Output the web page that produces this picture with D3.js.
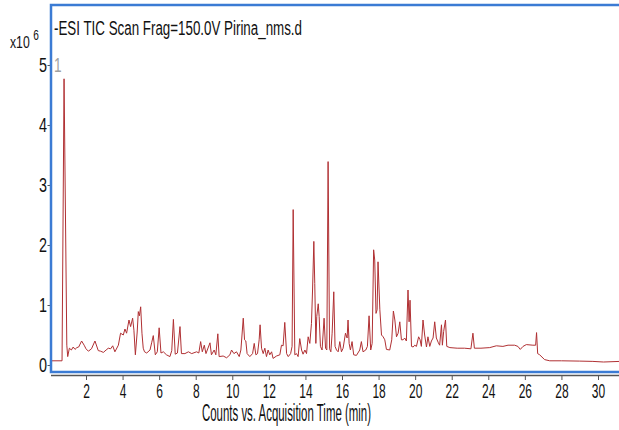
<!DOCTYPE html>
<html>
<head>
<meta charset="utf-8">
<script src="https://cdn.jsdelivr.net/npm/d3@7"></script>
<style>
  html, body { margin: 0; padding: 0; background: #fff; }
  svg { display: block; }
  text { font-family: "Liberation Sans", Arial, sans-serif; fill: #111; }
</style>
</head>
<body>
<svg id="chart" width="619" height="430"></svg>
<script>
// chromatogram: time (min) and counts (x10^6)
var times = [
  0.05, 0.69, 0.80, 0.95, 1.00, 1.09, 1.20, 1.30, 1.40, 1.50, 1.60, 1.76, 1.90, 2.00, 2.13, 2.30,
  2.49, 2.67, 2.80, 2.95, 3.10, 3.22, 3.35, 3.46, 3.58, 3.77, 3.89, 4.04, 4.13, 4.22, 4.35, 4.44,
  4.55, 4.62, 4.70, 4.80, 4.86, 4.92, 4.99, 5.06, 5.13, 5.20, 5.32, 5.50, 5.59, 5.68, 5.79, 5.90,
  6.00, 6.10, 6.23, 6.40, 6.59, 6.69, 6.78, 6.88, 7.00, 7.14, 7.22, 7.41, 7.60, 7.78, 8.05, 8.17,
  8.27, 8.36, 8.47, 8.56, 8.78, 8.86, 9.01, 9.10, 9.21, 9.28, 9.50, 9.69, 9.87, 9.96, 10.09, 10.23,
  10.38, 10.47, 10.60, 10.67, 10.74, 10.81, 10.96, 11.11, 11.20, 11.29, 11.38, 11.47, 11.52, 11.60, 11.69, 11.78,
  11.87, 11.96, 12.05, 12.15, 12.23, 12.42, 12.60, 12.69, 12.78, 12.87, 12.97, 13.06, 13.19, 13.27, 13.33, 13.42,
  13.51, 13.60, 13.69, 13.79, 13.87, 13.97, 14.06, 14.15, 14.24, 14.33, 14.39, 14.46, 14.51, 14.57, 14.62, 14.70,
  14.75, 14.82, 14.91, 15.02, 15.10, 15.17, 15.24, 15.32, 15.39, 15.46, 15.55, 15.62, 15.70, 15.79, 15.88, 15.97,
  16.06, 16.19, 16.28, 16.33, 16.39, 16.46, 16.55, 16.64, 16.79, 16.97, 17.06, 17.15, 17.30, 17.39, 17.48, 17.57,
  17.65, 17.73, 17.79, 17.86, 17.92, 17.97, 18.07, 18.16, 18.25, 18.34, 18.43, 18.61, 18.72, 18.81, 18.89, 18.98,
  19.07, 19.16, 19.25, 19.34, 19.43, 19.52, 19.61, 19.67, 19.72, 19.80, 19.89, 19.98, 20.07, 20.19, 20.27, 20.34,
  20.43, 20.52, 20.62, 20.70, 20.80, 20.89, 20.98, 21.07, 21.16, 21.27, 21.34, 21.44, 21.49, 21.56, 21.66, 21.73,
  21.90, 22.30, 22.70, 23.05, 23.16, 23.24, 23.60, 24.08, 24.44, 24.80, 25.08, 25.44, 25.62, 25.75, 25.90, 26.08,
  26.44, 26.59, 26.64, 26.70, 26.81, 27.08, 27.36, 28.00, 29.00, 29.72, 30.30, 31.20
];
var counts = [
  0.07, 0.07, 4.77, 0.33, 0.14, 0.28, 0.25, 0.30, 0.26, 0.29, 0.30, 0.40, 0.33, 0.27, 0.23, 0.27,
  0.40, 0.24, 0.23, 0.21, 0.25, 0.28, 0.27, 0.32, 0.22, 0.33, 0.53, 0.50, 0.60, 0.53, 0.75, 0.64,
  0.78, 0.58, 0.17, 0.55, 0.89, 0.82, 0.97, 0.53, 0.28, 0.22, 0.20, 0.25, 0.37, 0.49, 0.17, 0.22,
  0.62, 0.20, 0.22, 0.17, 0.14, 0.24, 0.76, 0.18, 0.20, 0.64, 0.19, 0.19, 0.22, 0.19, 0.22, 0.20,
  0.39, 0.22, 0.33, 0.19, 0.37, 0.17, 0.25, 0.17, 0.52, 0.14, 0.15, 0.12, 0.17, 0.25, 0.19, 0.22,
  0.14, 0.25, 0.78, 0.42, 0.40, 0.19, 0.14, 0.19, 0.36, 0.17, 0.19, 0.42, 0.67, 0.28, 0.19, 0.28,
  0.14, 0.25, 0.17, 0.22, 0.11, 0.15, 0.17, 0.33, 0.32, 0.71, 0.19, 0.14, 0.19, 0.31, 2.59, 0.17,
  0.19, 0.14, 0.44, 0.25, 0.18, 0.25, 0.19, 0.47, 0.36, 0.69, 1.25, 2.06, 1.36, 0.36, 0.81, 1.02,
  0.81, 0.31, 0.25, 0.78, 0.28, 0.25, 3.39, 0.27, 0.22, 0.53, 1.22, 0.31, 0.25, 0.22, 0.39, 0.22,
  0.28, 0.53, 0.45, 0.75, 0.36, 0.25, 0.39, 0.17, 0.16, 0.25, 0.39, 0.22, 0.25, 0.31, 0.82, 0.25,
  0.36, 1.92, 1.75, 0.86, 0.92, 1.72, 0.92, 0.50, 0.47, 0.42, 0.26, 0.25, 0.42, 0.90, 0.75, 0.47,
  0.53, 0.72, 0.42, 0.42, 0.45, 0.40, 1.25, 0.72, 1.08, 0.31, 0.30, 0.33, 0.31, 0.47, 0.42, 0.31,
  0.75, 0.50, 0.30, 0.47, 0.31, 0.40, 0.45, 0.72, 0.45, 0.37, 0.33, 0.67, 0.33, 0.56, 0.75, 0.31,
  0.29, 0.28, 0.28, 0.27, 0.53, 0.28, 0.28, 0.29, 0.32, 0.31, 0.33, 0.33, 0.31, 0.26, 0.31, 0.34,
  0.33, 0.33, 0.54, 0.19, 0.17, 0.09, 0.07, 0.07, 0.065, 0.06, 0.05, 0.06
];
var xTicks = [2, 4, 6, 8, 10, 12, 14, 16, 18, 20, 22, 24, 26, 28, 30];
var yTicks = [0, 1, 2, 3, 4, 5];
var titleText = "-ESI TIC Scan Frag=150.0V Pirina_nms.d";
var xTitle = "Counts vs. Acquisition Time (min)";
var peakLabel = "1";

(function () {
  var svg = d3.select("#chart");
  var pl = 51, pr = 619, pt = 5, pb = 373;

  var x = d3.scaleLinear().domain([2, 30]).range([86, 598]);
  var y = d3.scaleLinear().domain([0, 5]).range([365, 65]);

  var data = times.map(function (t, i) { return {t: t, v: counts[i]}; });

  svg.append("clipPath").attr("id", "plotclip")
    .append("rect").attr("x", pl).attr("y", pt).attr("width", pr - pl).attr("height", pb - pt);

  // trace
  svg.append("path")
    .datum(data)
    .attr("clip-path", "url(#plotclip)")
    .attr("fill", "none")
    .attr("stroke", "#b03033")
    .attr("stroke-width", 1)
    .attr("stroke-linejoin", "round")
    .attr("d", d3.line().x(function (d) { return x(d.t); }).y(function (d) { return y(d.v); }));

  // x axis, sits just under the frame
  var gx = svg.append("g").attr("transform", "translate(0,375)")
    .call(d3.axisBottom(x).tickValues(xTicks).tickSize(5).tickSizeOuter(0).tickPadding(4));
  gx.select(".domain").attr("d", "M" + pl + ",0.5H" + pr).attr("stroke", "#555").attr("stroke-width", 1.5);
  gx.selectAll(".tick line").attr("stroke", "#555");
  gx.selectAll(".tick text")
    .attr("font-size", 20).attr("font-family", null).attr("fill", "#111")
    .attr("transform", "scale(0.6,1)");

  // y axis
  var gy = svg.append("g").attr("transform", "translate(" + (pl - 0.5) + ",0)")
    .call(d3.axisLeft(y).tickValues(yTicks).tickFormat(d3.format("d")).tickSize(3).tickSizeOuter(0).tickPadding(2));
  gy.select(".domain").remove();
  gy.selectAll(".tick line").attr("stroke", "#555");
  gy.selectAll(".tick text")
    .attr("font-size", 20).attr("font-family", null).attr("fill", "#111")
    .attr("transform", "scale(0.72,1)");

  // blue frame
  svg.append("path")
    .attr("d", "M" + (pr + 5) + "," + pt + "H" + pl + "V" + (pb - 1) + "H" + (pr + 5))
    .attr("fill", "none")
    .attr("stroke", "#3b7bd4")
    .attr("stroke-width", 2.5);

  // title
  svg.append("text")
    .attr("x", 54).attr("y", 35)
    .attr("font-size", 20)
    .attr("textLength", 248).attr("lengthAdjust", "spacingAndGlyphs")
    .text(titleText);

  // scale multiplier
  var mult = svg.append("text").attr("transform", "translate(10,48) scale(0.72,1)").attr("font-size", 17);
  mult.append("tspan").text("x10");
  mult.append("tspan").attr("dx", 5).attr("dy", -8).attr("font-size", 14).text("6");

  // peak label
  svg.append("text")
    .attr("transform", "translate(54,72) scale(0.65,1)")
    .attr("font-size", 21)
    .style("fill", "#a0a0a0")
    .text(peakLabel);

  // x axis title
  svg.append("text")
    .attr("x", 202).attr("y", 421)
    .attr("font-size", 23)
    .attr("textLength", 169).attr("lengthAdjust", "spacingAndGlyphs")
    .text(xTitle);
})();
</script>
</body>
</html>
